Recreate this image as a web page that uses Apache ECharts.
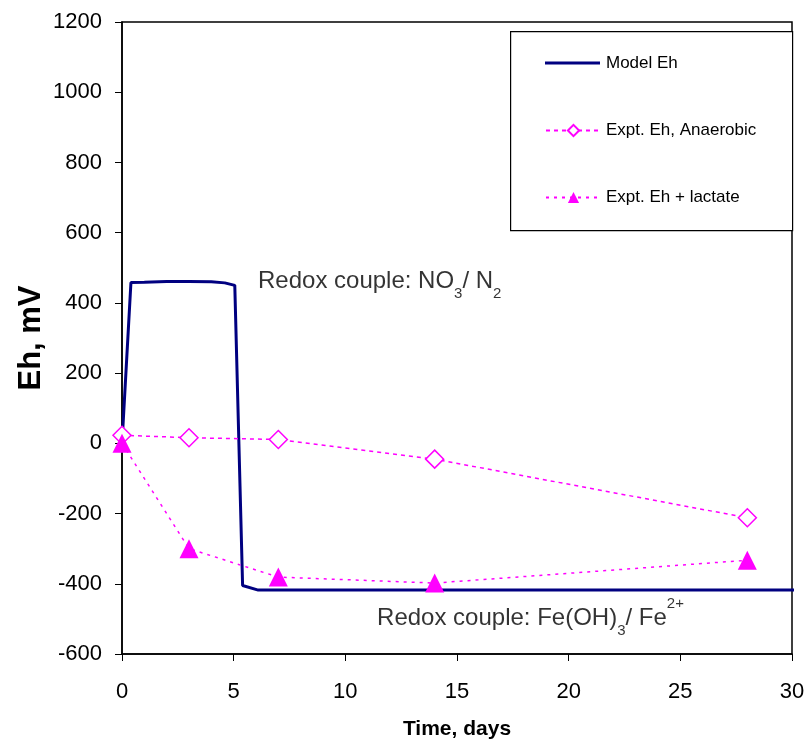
<!DOCTYPE html>
<html><head><meta charset="utf-8">
<script src="https://cdn.jsdelivr.net/npm/echarts@6/dist/echarts.min.js"></script>
<style>html,body{margin:0;padding:0;background:#fff}#c{width:807px;height:743px}</style>
</head><body><div id="c"></div>
<script>
// Model Eh curve: [days, mV]
var modelDays = [0, 0.4, 1, 2, 3, 4, 4.6, 5.05, 5.4, 6.1, 30.4];
var modelEh   = [0, 458, 459, 461, 461, 460, 457, 450, -405, -418, -418];
// Experimental data
var exptDays = [0, 3, 7, 14, 28];
var anaerobicEh = [23, 16, 11, -45, -212];
var lactateEh = [0, -300, -381, -398, -333];
// Axis ticks
var xTicks = [0, 5, 10, 15, 20, 25, 30];
var yTicks = [-600, -400, -200, 0, 200, 400, 600, 800, 1000, 1200];
// Annotations [days, mV]
var noteNO3 = [6.09, 462];
var noteFe = [11.42, -499];

function pairs(xs, ys){ return xs.map(function(x,i){return [x, ys[i]];}); }

var font = 'Liberation Sans, Arial, sans-serif';
var chart = echarts.init(document.getElementById('c'), null, {renderer:'canvas'});
var rich = {
  t:{fontSize:24, fontFamily:font, color:'#000'},
  sub:{fontSize:15, fontFamily:font, color:'#000', verticalAlign:'bottom', padding:[0,0,-8,0]},
  sup:{fontSize:15, fontFamily:font, color:'#000', verticalAlign:'top', padding:[-10,0,0,0]}
};
chart.setOption({
  animation:false,
  backgroundColor:'#fff',
  grid:{left:122, right:15, top:22, bottom:89, outerBoundsMode:'none', containLabel:false,
        show:true, borderColor:'#000', borderWidth:1.5},
  graphic:[
    {type:'rect', left:510, top:31, shape:{width:282, height:199}, style:{fill:'#fff', stroke:'#000', lineWidth:1.2}, z:5},
    {type:'line', shape:{x1:545, y1:63, x2:600, y2:63}, style:{stroke:'#000080', lineWidth:3}, z:11}
  ],
  legend:{
    left:540, top:50, orient:'vertical', itemGap:50, itemWidth:55, itemHeight:14, z:10,
    textStyle:{fontFamily:font, fontSize:17, color:'#000'},
    data:[{name:'Model Eh', icon:'none', itemStyle:{opacity:0}}, 'Expt. Eh, Anaerobic', 'Expt. Eh + lactate']
  },
  xAxis:{
    type:'value', min:xTicks[0], max:xTicks[xTicks.length-1], interval:5,
    name:'Time, days', nameLocation:'middle', nameGap:65, nameMoveOverlap:false,
    nameTextStyle:{fontFamily:font, fontSize:21, fontWeight:'bold', color:'#000'},
    axisLine:{onZero:false, lineStyle:{color:'#000', width:1.5}},
    axisTick:{show:true, length:7, lineStyle:{color:'#000'}},
    axisLabel:{fontFamily:font, fontSize:22, color:'#000', margin:27},
    splitLine:{show:false}
  },
  yAxis:{
    type:'value', min:yTicks[0], max:yTicks[yTicks.length-1], interval:200,
    name:'Eh, mV', nameLocation:'middle', nameGap:75, nameMoveOverlap:false,
    nameTextStyle:{fontFamily:font, fontSize:31, fontWeight:'bold', color:'#000'},
    axisLine:{onZero:false, lineStyle:{color:'#000', width:1.5}},
    axisTick:{show:true, length:7, lineStyle:{color:'#000'}},
    axisLabel:{fontFamily:font, fontSize:22, color:'#000', margin:20, formatter:function(v){return String(v);}},
    splitLine:{show:false}
  },
  series:[
    {name:'Model Eh', type:'line', data:pairs(modelDays, modelEh), symbol:'none', clip:false,
     lineStyle:{color:'#000080', width:3}, itemStyle:{color:'#000080'}, z:3},
    {name:'Expt. Eh, Anaerobic', type:'line', data:pairs(exptDays, anaerobicEh), symbol:'diamond', symbolSize:18,
     lineStyle:{color:'#ff00ff', width:1.5, type:[4,4]}, itemStyle:{color:'#fff', borderColor:'#ff00ff', borderWidth:1.5}, z:4},
    {name:'Expt. Eh + lactate', type:'line', data:pairs(exptDays, lactateEh), symbol:'triangle', symbolSize:19,
     lineStyle:{color:'#ff00ff', width:1.5, type:[3,5]}, itemStyle:{color:'#ff00ff'}, z:4},
    {type:'scatter', data:[noteNO3], symbolSize:0, silent:true,
     label:{show:true, position:'right', distance:0, color:'#000', rich:rich,
       formatter:'{t|Redox couple: NO}{sub|3}{t|/ N}{sub|2}'}},
    {type:'scatter', data:[noteFe], symbolSize:0, silent:true,
     label:{show:true, position:'right', distance:0, color:'#000', rich:rich,
       formatter:'{t|Redox couple: Fe(OH)}{sub|3}{t|/ Fe}{sup|2+}'}}
  ]
});
</script></body></html>
